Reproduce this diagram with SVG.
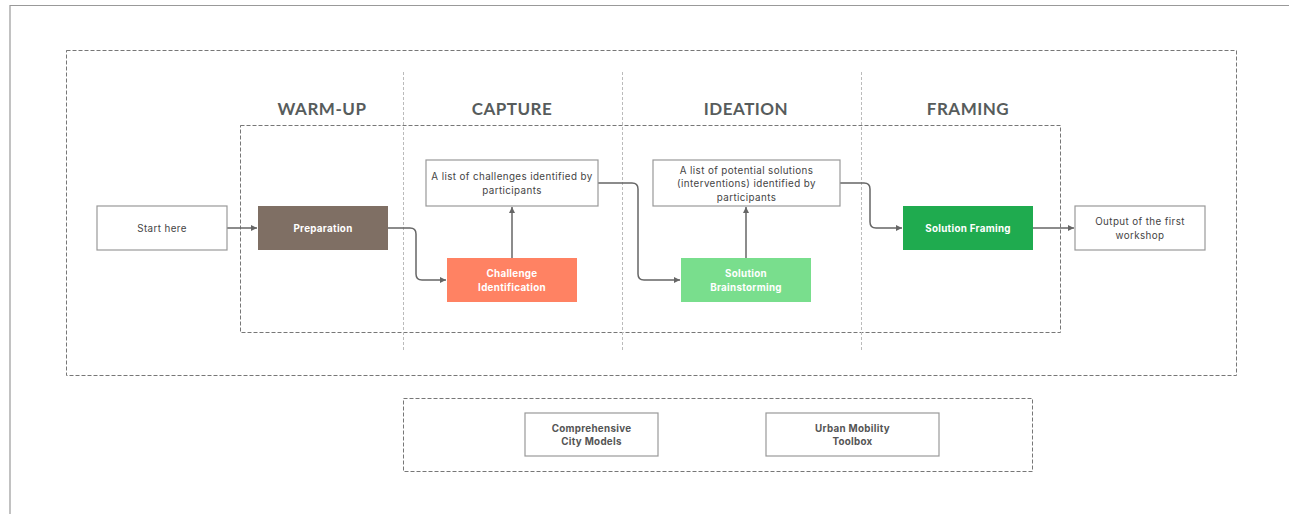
<svg xmlns="http://www.w3.org/2000/svg" width="1289" height="514" viewBox="0 0 1289 514">
<style>
.dash{fill:none;stroke:#777;stroke-width:1;stroke-dasharray:4 2}
.sep{fill:none;stroke:#bbb;stroke-width:1;stroke-dasharray:3 2}
.box{fill:#fff;stroke:#999;stroke-width:1.2}
.hdr{font-family:Lato,"Liberation Sans",sans-serif;font-weight:700;font-size:17px;fill:#575c5c;text-anchor:middle;letter-spacing:0.5px}
.t{font-family:Inter,"Liberation Sans",sans-serif;font-size:9.8px;fill:#444;text-anchor:middle;letter-spacing:0.4px}
.tw{font-family:Inter,"Liberation Sans",sans-serif;font-size:9.8px;font-weight:700;fill:#fff;text-anchor:middle;letter-spacing:0.3px}
.tb{font-family:Inter,"Liberation Sans",sans-serif;font-size:9.8px;font-weight:700;fill:#555;text-anchor:middle;letter-spacing:0.3px}
.c{fill:none;stroke:#666;stroke-width:1.5;marker-end:url(#ah)}
</style>
<defs>
<marker id="ah" markerWidth="8" markerHeight="8" refX="6" refY="4" orient="auto" markerUnits="userSpaceOnUse">
<path d="M0,1 L6,4 L0,7 Z" fill="#666"/>
</marker>
</defs>
<rect width="1289" height="514" fill="#fff"/>
<path d="M10,514 V5.5 H1289" fill="none" stroke="#999" stroke-width="1.2"/>
<g id="frames">
<rect class="dash" x="66.5" y="50.5" width="1170" height="325"/>
<rect class="dash" x="240.5" y="125.5" width="820" height="207"/>
<line class="sep" x1="403.5" y1="72" x2="403.5" y2="352"/>
<line class="sep" x1="622.5" y1="72" x2="622.5" y2="352"/>
<line class="sep" x1="861.5" y1="72" x2="861.5" y2="352"/>
<rect class="dash" x="403.5" y="398.5" width="629" height="73"/>
</g>
<g id="headers">
<text class="hdr" x="322" y="115">WARM-UP</text>
<text class="hdr" x="512" y="115">CAPTURE</text>
<text class="hdr" x="746" y="115">IDEATION</text>
<text class="hdr" x="968" y="115">FRAMING</text>
</g>
<g id="connectors">
<path class="c" d="M227,228 H257"/>
<path class="c" d="M388,228 H410 Q416,228 416,234 V274 Q416,280 422,280 H446"/>
<path class="c" d="M512,258 V207"/>
<path class="c" d="M598,183 H632 Q638,183 638,189 V274 Q638,280 644,280 H680"/>
<path class="c" d="M746,258 V207"/>
<path class="c" d="M840,183 H864 Q870,183 870,189 V222 Q870,228 876,228 H902"/>
<path class="c" d="M1033,228 H1074"/>
</g>
<g id="start"><rect class="box" x="97" y="206" width="130" height="44"/><text class="t" x="162" y="231.5">Start here</text></g>
<g id="preparation"><rect x="258" y="206" width="130" height="44" fill="#7f6f64"/><text class="tw" x="323" y="231.5">Preparation</text></g>
<g id="challenge"><rect x="447" y="258" width="130" height="44" fill="#ff8263"/><text class="tw" x="512" y="277">Challenge</text><text class="tw" x="512" y="290.5">Identification</text></g>
<g id="challengesList"><rect class="box" x="426" y="160" width="172" height="46"/><text class="t" x="512" y="180">A list of challenges identified by</text><text class="t" x="512" y="193.5">participants</text></g>
<g id="solutionsList"><rect class="box" x="653" y="160" width="187" height="46"/><text class="t" x="746.5" y="173.5">A list of potential solutions</text><text class="t" x="746.5" y="187">(interventions) identified by</text><text class="t" x="746.5" y="200.5">participants</text></g>
<g id="brainstorm"><rect x="681" y="258" width="130" height="44" fill="#79de8d"/><text class="tw" x="746" y="277">Solution</text><text class="tw" x="746" y="290.5">Brainstorming</text></g>
<g id="framing"><rect x="903" y="206" width="130" height="44" fill="#1fab4f"/><text class="tw" x="968" y="231.5">Solution Framing</text></g>
<g id="output"><rect class="box" x="1075" y="206" width="130" height="44" /><text class="t" x="1140" y="225">Output of the first</text><text class="t" x="1140" y="238.5">workshop</text></g>
<g id="cityModels"><rect class="box" x="525" y="413" width="133" height="43"/><text class="tb" x="591.5" y="431.5">Comprehensive</text><text class="tb" x="591.5" y="445">City Models</text></g>
<g id="toolbox"><rect class="box" x="766" y="413" width="173" height="43"/><text class="tb" x="852.5" y="431.5">Urban Mobility</text><text class="tb" x="852.5" y="445">Toolbox</text></g>
</svg>
